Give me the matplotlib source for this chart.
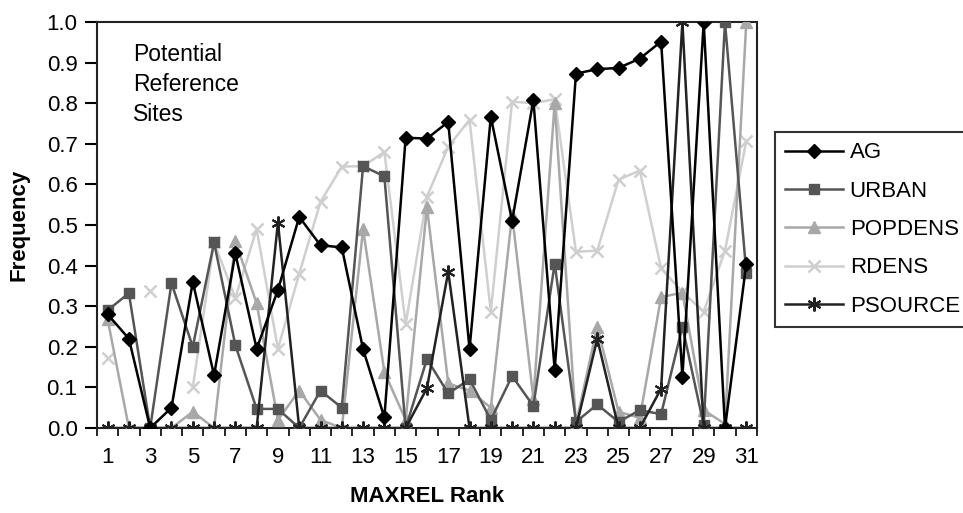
import numpy as np
import matplotlib.pyplot as plt

plt.rcParams['font.family'] = ['Liberation Sans', 'DejaVu Sans']

nan = np.nan
rank = np.arange(1, 32)

ag = [0.28, 0.22, 0.0, 0.05, 0.36, 0.13, 0.43, 0.195, 0.34, 0.52, 0.45, 0.445, 0.194, 0.026, 0.715, 0.713,
      0.754, 0.194, 0.767, 0.51, 0.808, 0.143, 0.873, 0.884, 0.887, 0.91, 0.952, 0.126, 1.0, 0.0, 0.404]
urban = [0.29, 0.332, 0.0, 0.357, 0.2, 0.457, 0.204, 0.047, 0.047, 0.0, 0.092, 0.05, 0.645, 0.62, 0.0, 0.17,
         0.085, 0.12, 0.02, 0.128, 0.054, 0.405, 0.015, 0.058, 0.015, 0.044, 0.034, 0.25, 0.007, 1.0, 0.383]
popdens = [0.268, 0.0, 0.0, 0.0, 0.04, 0.0, 0.46, 0.307, 0.02, 0.092, 0.02, 0.0, 0.49, 0.138, 0.02, 0.544,
           0.11, 0.092, 0.05, 0.525, 0.072, 0.8, 0.01, 0.25, 0.04, 0.025, 0.323, 0.333, 0.044, 0.01, 1.0]
rdens = [0.172, nan, 0.338, nan, 0.1, 0.457, 0.32, 0.49, 0.195, 0.38, 0.557, 0.644, 0.645, 0.68, 0.256, 0.57,
         0.693, 0.759, 0.286, 0.804, 0.8, 0.81, 0.434, 0.437, 0.612, 0.634, 0.393, 0.335, 0.286, 0.437, 0.707]
psource = [0, 0, 0, 0, 0, 0, 0, 0, 0.506, 0, 0, 0, 0, 0, 0, 0.098,
           0.385, 0, 0, 0, 0, 0, 0, 0.22, 0, 0, 0.097, 1.0, 0, 0, 0]

fig = plt.figure(figsize=(9.63, 5.13), dpi=100)
ax = fig.add_axes([0.1007, 0.1657, 0.6853, 0.7913])

# asterisk marker like the spreadsheet one
star = (6, 2, 0)

ax.plot(rank, rdens, color='#cfcfcf', lw=1.8, marker='x', ms=8, mew=1.8, label='RDENS', zorder=2)
ax.plot(rank, popdens, color='#a8a8a8', lw=1.8, marker='^', ms=8, label='POPDENS', zorder=3)
ax.plot(rank, urban, color='#555555', lw=1.8, marker='s', ms=7, label='URBAN', zorder=4)
ax.plot(rank, psource, color='#222222', lw=1.8, marker=star, ms=10, mew=1.5, label='PSOURCE', zorder=5)
ax.plot(rank, ag, color='#000000', lw=1.8, marker='D', ms=7, label='AG', zorder=6)

ax.set_xlim(0.5, 31.5)
ax.set_ylim(0, 1.0)
ax.set_yticks(np.arange(0, 1.01, 0.1))
ax.set_yticklabels(['%.1f' % v for v in np.arange(0, 1.01, 0.1)])

# ticks between categories, labels on odd ranks
ax.set_xticks(np.arange(0.5, 32, 1))
ax.set_xticklabels([])
ax.set_xticks(rank[::2], minor=True)
ax.set_xticklabels([str(r) for r in rank[::2]], minor=True)
ax.tick_params(axis='x', which='minor', length=0, pad=14, labelsize=16)
ax.tick_params(axis='x', which='major', length=6, width=1.2, direction='out')
ax.tick_params(axis='y', length=9, width=1.5, direction='out', labelsize=16, pad=5)

for s in ax.spines.values():
    s.set_linewidth(1.5)
    s.set_color('#222222')

ax.set_xlabel('MAXREL Rank', fontsize=16, fontweight='bold', labelpad=13)
ax.set_ylabel('Frequency', fontsize=16, fontweight='bold', labelpad=12)

ax.text(0.055, 0.948, 'Potential\nReference\nSites', transform=ax.transAxes, fontsize=16.5,
        va='top', ha='left', linespacing=1.38)

h, l = ax.get_legend_handles_labels()
order = ['AG', 'URBAN', 'POPDENS', 'RDENS', 'PSOURCE']
hd = dict(zip(l, h))
leg = fig.legend([hd[k] for k in order], order, loc='upper left', bbox_to_anchor=(0.805, 0.742),
                 fontsize=16, frameon=True, fancybox=False, edgecolor='black', handlelength=2.6,
                 labelspacing=0.78, borderpad=0.45, handletextpad=0.3, borderaxespad=0)
leg.get_frame().set_linewidth(1.5)

fig.savefig('out.png', dpi=100)
